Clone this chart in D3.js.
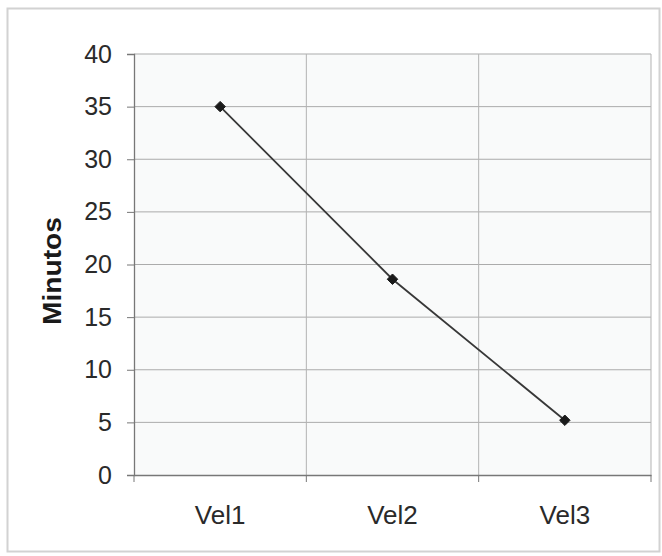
<!DOCTYPE html>
<html><head><meta charset="utf-8">
<script src="https://cdn.jsdelivr.net/npm/d3@7"></script>
<style>html,body{margin:0;padding:0;background:#fff;}svg{display:block;}</style>
</head><body>
<svg id="c" width="662" height="556"></svg>
<script>
const categories = ["Vel1", "Vel2", "Vel3"];
const minutos = [35.0, 18.6, 5.2];
const yTicks = [0, 5, 10, 15, 20, 25, 30, 35, 40];
const yTitle = "Minutos";

const svg = d3.select("#c");
const W = 662, H = 556;
const m = {left: 134, right: 11, top: 54, bottom: 81};
const pw = W - m.left - m.right, ph = H - m.top - m.bottom;
const FONT = "Arial, 'Liberation Sans', sans-serif";

// chart border
svg.append("rect").attr("x", 7.5).attr("y", 8.5).attr("width", 652).attr("height", 543)
  .attr("fill", "#fff").attr("stroke", "#d2d2d2").attr("stroke-width", 2);

const g = svg.append("g").attr("transform", `translate(${m.left},${m.top})`);
g.append("rect").attr("width", pw).attr("height", ph).attr("fill", "#f9fafa");

const x = d3.scaleBand().domain(categories).range([0, pw]).padding(0);
const y = d3.scaleLinear().domain([0, 40]).range([ph, 0]);

// horizontal gridlines
g.append("g").selectAll("line").data(yTicks.filter(d => d > 0)).join("line")
  .attr("x1", 0).attr("x2", pw).attr("y1", d => y(d)).attr("y2", d => y(d))
  .attr("stroke", "#ababab").attr("stroke-width", 1);
// vertical gridlines at category boundaries
const bounds = categories.map(c => x(c)).concat([pw]);
g.append("g").selectAll("line").data(bounds.slice(1)).join("line")
  .attr("x1", d => d).attr("x2", d => d).attr("y1", 0).attr("y2", ph)
  .attr("stroke", "#b3b3b3").attr("stroke-width", 1);

// y axis
const ya = g.append("g").call(d3.axisLeft(y).tickValues(yTicks).tickSize(7).tickPadding(15));
ya.select(".domain").attr("stroke", "#777").attr("stroke-width", 1.3);
ya.selectAll(".tick line").attr("stroke", "#777");
ya.selectAll("text").attr("font-family", FONT).attr("font-size", 25).attr("fill", "#2a2a2a");

// x axis
const xa = g.append("g").attr("transform", `translate(0,${ph})`)
  .call(d3.axisBottom(x).tickSize(0).tickPadding(31));
xa.select(".domain").attr("stroke", "#777").attr("stroke-width", 1.3);
xa.selectAll("text").attr("font-family", FONT).attr("font-size", 26).attr("fill", "#2a2a2a");
g.append("g").selectAll("line").data(bounds).join("line")
  .attr("x1", d => d).attr("x2", d => d).attr("y1", ph).attr("y2", ph + 7)
  .attr("stroke", "#777");

// line
const cx = c => x(c) + x.bandwidth() / 2;
g.append("path").datum(minutos)
  .attr("d", d3.line().x((d, i) => cx(categories[i])).y(d => y(d)))
  .attr("fill", "none").attr("stroke", "#383838").attr("stroke-width", 1.8);
g.append("g").selectAll("path").data(minutos).join("path")
  .attr("transform", (d, i) => `translate(${cx(categories[i])},${y(d)})`)
  .attr("d", d3.symbol(d3.symbolDiamond2, 70)())
  .attr("fill", "#1a1a1a").attr("stroke", "#1a1a1a").attr("stroke-width", 1);

// y title
svg.append("text").attr("transform", `translate(61,271) rotate(-90)`)
  .attr("text-anchor", "middle").attr("font-family", FONT)
  .attr("font-weight", "bold").attr("font-size", 26).attr("fill", "#1a1a1a")
  .attr("textLength", 108).attr("lengthAdjust", "spacingAndGlyphs").text(yTitle);
</script>
</body></html>
